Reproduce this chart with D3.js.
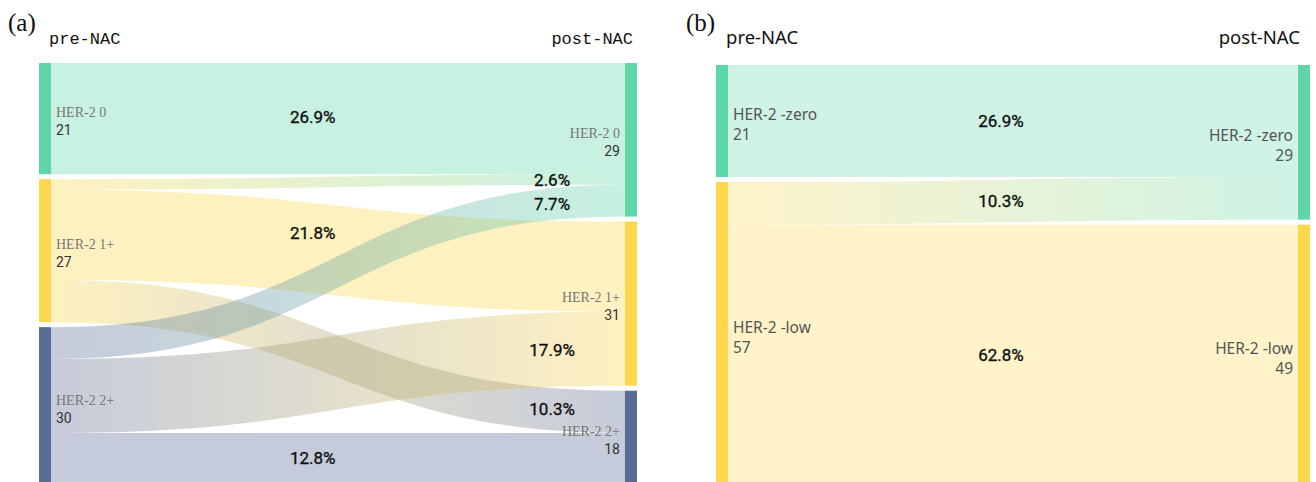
<!DOCTYPE html>
<html>
<head>
<meta charset="utf-8">
<script src="https://cdn.jsdelivr.net/npm/d3@7"></script>
<style>
  html, body { margin: 0; padding: 0; background: #fff; }
  svg { display: block; }
</style>
</head>
<body>
<svg id="chart" width="1316" height="482"></svg>
<script>
// ---- data: HER-2 status before and after neoadjuvant chemotherapy (n = 78) ----
const stageLabels = ["pre-NAC", "post-NAC"];

// (a) three-level scoring
const aCategories = ["HER-2 0", "HER-2 1+", "HER-2 2+"];
const aFlowFrom   = [0, 1, 1, 1, 2, 2, 2];
const aFlowTo     = [0, 0, 1, 2, 0, 1, 2];
const aFlowCount  = [21, 2, 17, 8, 6, 14, 10];

// (b) zero vs low
const bCategories = ["HER-2 -zero", "HER-2 -low"];
const bFlowFrom   = [0, 1, 1];
const bFlowTo     = [0, 0, 1];
const bFlowCount  = [21, 8, 49];

const aColors = ["#5fd6a9", "#fdd84c", "#5a6b95"];
const bColors = ["#5fd6a9", "#fdd84c"];

const svg = d3.select("#chart");
const defs = svg.append("defs");
const pct = d3.format(".1%");

function drawPanel(cfg) {
  const n = cfg.categories.length;
  const flows = cfg.from.map((s, i) => ({ s, t: cfg.to[i], v: cfg.count[i], i }));
  const total = d3.sum(flows, d => d.v);
  const leftTot = d3.range(n).map(c => d3.sum(flows.filter(f => f.s === c), f => f.v));
  const rightTot = d3.range(n).map(c => d3.sum(flows.filter(f => f.t === c), f => f.v));

  const k = d3.scaleLinear().domain([0, total]).range([0, cfg.bottom - cfg.top - (n - 1) * cfg.gap]);

  function stack(tots) {
    let y = cfg.top;
    return tots.map(v => { const y0 = y; y += k(v) + cfg.gap; return { y0, y1: y0 + k(v), v }; });
  }
  const leftNodes = stack(leftTot);
  const rightNodes = stack(rightTot);

  // link ends: outgoing sorted by target, incoming sorted by source
  const sOff = leftNodes.map(d => d.y0), tOff = rightNodes.map(d => d.y0);
  flows.slice().sort((a, b) => a.t - b.t).forEach(f => { f.sy0 = sOff[f.s]; sOff[f.s] += k(f.v); f.sy1 = sOff[f.s]; });
  flows.slice().sort((a, b) => a.s - b.s).forEach(f => { f.ty0 = tOff[f.t]; tOff[f.t] += k(f.v); f.ty1 = tOff[f.t]; });

  const xs = cfg.xL + cfg.barW, xt = cfg.xR, xm = (xs + xt) / 2;
  const g = svg.append("g");

  // links as filled bands with a source→target gradient
  flows.forEach(f => {
    const id = `${cfg.id}-grad-${f.i}`;
    const gr = defs.append("linearGradient").attr("id", id)
      .attr("gradientUnits", "userSpaceOnUse")
      .attr("x1", xs).attr("x2", xt).attr("y1", 0).attr("y2", 0);
    gr.append("stop").attr("offset", "0%").attr("stop-color", cfg.colors[f.s]);
    gr.append("stop").attr("offset", "100%").attr("stop-color", cfg.colors[f.t]);
    const p = d3.path();
    p.moveTo(xs, f.sy0);
    p.bezierCurveTo(xm, f.sy0, xm, f.ty0, xt, f.ty0);
    p.lineTo(xt, f.ty1);
    p.bezierCurveTo(xm, f.ty1, xm, f.sy1, xs, f.sy1);
    p.closePath();
    g.append("path").attr("d", p.toString())
      .attr("fill", `url(#${id})`).attr("fill-opacity", cfg.linkOpacity);
  });

  // node bars
  g.selectAll(".nl").data(leftNodes).join("rect").attr("class", "nl")
    .attr("x", cfg.xL).attr("y", d => d.y0).attr("width", cfg.barW).attr("height", d => d.y1 - d.y0)
    .attr("fill", (d, i) => cfg.colors[i]);
  g.selectAll(".nr").data(rightNodes).join("rect").attr("class", "nr")
    .attr("x", cfg.xR).attr("y", d => d.y0).attr("width", cfg.barW).attr("height", d => d.y1 - d.y0)
    .attr("fill", (d, i) => cfg.colors[i]);

  // percentage labels on the bands
  function centerAt(f, x) {
    // solve the cubic's x(t) for t, then evaluate y on the band's mid line
    const ya = (f.sy0 + f.sy1) / 2, yb = (f.ty0 + f.ty1) / 2;
    let lo = 0, hi = 1;
    for (let it = 0; it < 40; it++) {
      const t = (lo + hi) / 2;
      const xx = (1 - t) ** 3 * xs + 3 * (1 - t) ** 2 * t * xm + 3 * (1 - t) * t * t * xm + t ** 3 * xt;
      if (xx < x) lo = t; else hi = t;
    }
    const t = (lo + hi) / 2;
    return (1 - t) ** 3 * ya + 3 * (1 - t) ** 2 * t * ya + 3 * (1 - t) * t * t * yb + t ** 3 * yb;
  }
  flows.forEach(f => {
    const straight = f.s === f.t;
    const x = xs + (xt - xs) * (straight ? cfg.straightAt : cfg.crossAt);
    const y = straight ? (f.sy0 + f.sy1) / 2 + cfg.straightDy : centerAt(f, x);
    g.append("text").attr("x", x).attr("y", y)
      .attr("text-anchor", "middle").attr("dominant-baseline", "central")
      .attr("font-family", "Roboto, 'Liberation Sans', sans-serif")
      .attr("font-size", 17).attr("font-weight", 400).attr("fill", "#111")
      .attr("stroke", "#111").attr("stroke-width", 0.35)
      .text(pct(f.v / total));
  });

  // node labels
  function nodeLabel(nodes, side) {
    nodes.forEach((d, i) => {
      const cy = (d.y0 + d.y1) / 2;
      const x = side === "L" ? cfg.xL + cfg.barW + 5 : cfg.xR - 5;
      const anchor = side === "L" ? "start" : "end";
      g.append("text").attr("x", x).attr("y", cy + cfg.nameDy).attr("text-anchor", anchor)
        .attr("font-family", cfg.nameFont).attr("font-size", cfg.nameSize).attr("fill", cfg.nameColor)
        .text(cfg.categories[i]);
      g.append("text").attr("x", x).attr("y", cy + cfg.numDy).attr("text-anchor", anchor)
        .attr("font-family", cfg.numFont).attr("font-size", cfg.numSize).attr("fill", cfg.numColor)
        .text(d.v);
    });
  }
  nodeLabel(leftNodes, "L");
  nodeLabel(rightNodes, "R");

  // stage headings and panel tag
  g.append("text").attr("x", cfg.xL + cfg.headPad).attr("y", cfg.headY)
    .attr("font-family", cfg.headFont).attr("font-size", cfg.headSize).attr("fill", "#111")
    .text(stageLabels[0]);
  g.append("text").attr("x", cfg.xR + cfg.barW - cfg.headPadR).attr("y", cfg.headY).attr("text-anchor", "end")
    .attr("font-family", cfg.headFont).attr("font-size", cfg.headSize).attr("fill", "#111")
    .text(stageLabels[1]);
  g.append("text").attr("x", cfg.tagX).attr("y", cfg.tagY)
    .attr("font-family", "'Liberation Serif', 'Times New Roman', serif").attr("font-size", 25).attr("fill", "#111")
    .text(cfg.tag);
}

drawPanel({
  id: "a", tag: "(a)", tagX: 8, tagY: 31,
  categories: aCategories, from: aFlowFrom, to: aFlowTo, count: aFlowCount, colors: aColors,
  xL: 39, xR: 625, barW: 12, top: 63, bottom: 486, gap: 5, linkOpacity: 0.35,
  straightAt: 0.456, crossAt: 0.873, straightDy: -1.5,
  nameFont: "'Liberation Serif', 'DejaVu Serif', serif", nameSize: 14, nameColor: "#777",
  numFont: "Roboto, 'Liberation Sans', sans-serif", numSize: 14, numColor: "#333",
  nameDy: -2, numDy: 16,
  headFont: "'Liberation Mono', 'DejaVu Sans Mono', monospace", headSize: 17, headY: 44, headPad: 10, headPadR: 4
});

drawPanel({
  id: "b", tag: "(b)", tagX: 686, tagY: 31,
  categories: bCategories, from: bFlowFrom, to: bFlowTo, count: bFlowCount, colors: bColors,
  xL: 716, xR: 1298, barW: 12, top: 65, bottom: 486, gap: 5, linkOpacity: 0.3,
  straightAt: 0.479, crossAt: 0.479, straightDy: 0,
  nameFont: "'Noto Sans', 'Open Sans', sans-serif", nameSize: 15.5, nameColor: "#555",
  numFont: "'Noto Sans', 'Open Sans', sans-serif", numSize: 15.5, numColor: "#555",
  nameDy: -1, numDy: 19,
  headFont: "'Noto Sans', 'Open Sans', sans-serif", headSize: 18.5, headY: 44, headPad: 10, headPadR: 10
});
</script>
</body>
</html>
